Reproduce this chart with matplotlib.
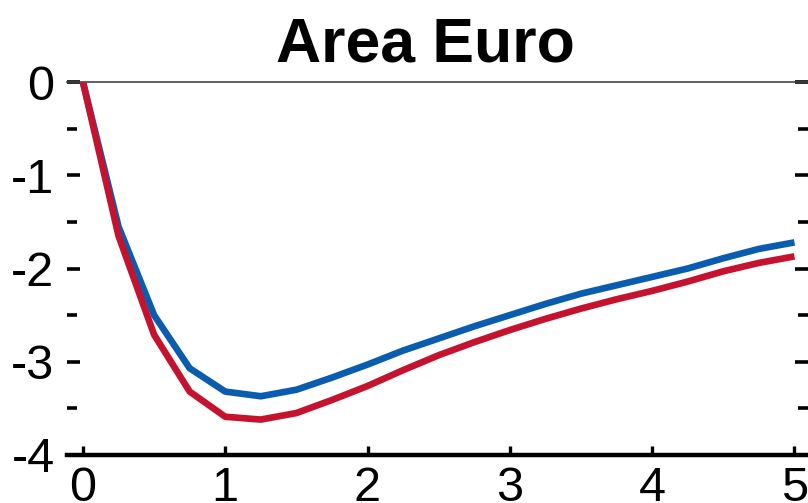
import matplotlib
matplotlib.use("Agg")
import matplotlib.pyplot as plt
from matplotlib import font_manager
import numpy as np

# ---- data ----
years = [0, 0.25, 0.5, 0.75, 1, 1.25, 1.5, 1.75, 2, 2.25, 2.5, 2.75, 3,
         3.25, 3.5, 3.75, 4, 4.25, 4.5, 4.75, 5]
blue_series = [0, -1.55, -2.50, -3.07, -3.32, -3.37, -3.30, -3.17, -3.03,
               -2.88, -2.75, -2.62, -2.50, -2.38, -2.27, -2.18, -2.09,
               -2.00, -1.89, -1.79, -1.72]
red_series = [0, -1.65, -2.71, -3.32, -3.59, -3.62, -3.55, -3.41, -3.26,
              -3.09, -2.93, -2.79, -2.66, -2.54, -2.43, -2.33, -2.24,
              -2.14, -2.03, -1.94, -1.87]
x_ticks = [0, 1, 2, 3, 4, 5]
y_ticks = [-4, -3, -2, -1, 0]
y_minor = [-3.5, -2.5, -1.5, -0.5]
title = "Area Euro"

names = {f.name for f in font_manager.fontManager.ttflist}
tick_family = ['Liberation Sans Narrow', 'Liberation Sans'] if 'Liberation Sans Narrow' in names else ['Liberation Sans']

fig = plt.figure(figsize=(8.08, 5.03), dpi=100)
ax = fig.add_axes([67/808, 48/503, 741/808, 373/503])

ax.plot(years, blue_series, color='#0A5DAE', lw=4.8, solid_capstyle='butt', zorder=3)
ax.plot(years, red_series, color='#C5122F', lw=4.8, solid_capstyle='butt', zorder=4)

ax.set_xlim(-0.112, 5.095)
ax.set_ylim(-4, 0)

ax.set_xticks(x_ticks)
ax.set_xticklabels([str(v) for v in x_ticks])
ax.set_yticks(y_ticks)
ax.set_yticklabels([str(v) for v in y_ticks])
ax.set_yticks(y_minor, minor=True)

for s in ['left', 'right']:
    ax.spines[s].set_visible(False)
ax.spines['top'].set_color('#444444')
ax.spines['top'].set_linewidth(1.2)
ax.spines['bottom'].set_color('black')
ax.spines['bottom'].set_linewidth(3.2)

ax.tick_params(axis='y', which='major', direction='in', length=9.5, width=2.6,
               left=True, right=True, labelsize=35, pad=9, color='black')
ax.tick_params(axis='y', which='minor', direction='in', length=7.5, width=2.6,
               left=True, right=True, color='black')
ax.tick_params(axis='x', which='major', direction='in', length=6.5, width=2.4,
               labelsize=35, pad=8, color='black', top=False)

for lab in ax.get_xticklabels() + ax.get_yticklabels():
    lab.set_family(tick_family)

fig.text(0.526, (503-61)/503, title, ha='center', va='baseline',
         fontsize=45, fontweight='bold', family=['Liberation Sans', 'DejaVu Sans'])

fig.savefig('out.png', dpi=100)
